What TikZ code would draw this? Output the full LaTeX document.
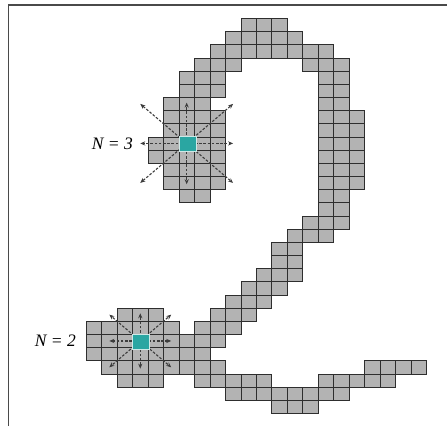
\documentclass[tikz,border=0pt]{standalone}
\usepackage{fontspec}
\setmainfont{Liberation Serif}
\usetikzlibrary{arrows.meta}
\definecolor{cellgray}{HTML}{B3B3B3}
\definecolor{celledge}{HTML}{2E2E2E}
\definecolor{seedteal}{HTML}{2AA6A2}
\definecolor{seededge}{HTML}{CFE9E7}
\definecolor{arrowgray}{HTML}{3C3C3C}
\definecolor{framegray}{HTML}{4A4A4A}
\tikzset{
  cell/.style={fill=cellgray,draw=celledge,line width=0.6pt},
  seed/.style={fill=seedteal,draw=seededge,line width=0.9pt,minimum width=17pt,minimum height=15pt,inner sep=0pt},
  probe/.style={draw=arrowgray,line width=1.1pt,dash pattern=on 2.6pt off 1.6pt,-{Stealth[length=5pt,width=4.2pt]}},
  lbl/.style={font=\fontsize{17.5}{20}\selectfont\itshape,anchor=east,inner sep=0pt}
}
\begin{document}
\begin{tikzpicture}
  \useasboundingbox (0,0) rectangle (447pt,-426pt);
  % frame
  \draw[framegray,line width=1.3pt] (8.3pt,-426pt) -- (8.3pt,-5pt) -- (447pt,-5pt);

  \begin{scope}[shift={(148pt,-18.3pt)},x=15.47pt,y=-13.17pt]
    % cells of the curve, row by row
    \foreach \r/\cs in {
        0/{6,7,8},
        1/{5,6,7,8,9},
        2/{4,5,6,7,8,9,10,11},
        3/{3,4,5,10,11,12},
        4/{2,3,4,11,12},
        5/{2,3,4,11,12},
        6/{1,2,3,11,12},
        7/{1,2,3,4,11,12,13},
        8/{1,2,3,4,11,12,13},
        9/{0,1,2,3,4,11,12,13},
        10/{0,1,2,3,4,11,12,13},
        11/{1,2,3,4,11,12,13},
        12/{1,2,3,4,11,12,13},
        13/{2,3,11,12},
        14/{11,12},
        15/{10,11,12},
        16/{9,10,11},
        17/{8,9},
        18/{8,9},
        19/{7,8,9},
        20/{6,7,8},
        21/{5,6,7},
        22/{-2,-1,0,4,5,6},
        23/{-4,-3,-2,-1,0,1,3,4,5},
        24/{-4,-3,-2,-1,0,1,2,3,4},
        25/{-4,-3,-2,-1,0,1,2,3},
        26/{-3,-2,-1,0,1,2,3,4,14,15,16,17},
        27/{-2,-1,0,3,4,5,6,7,11,12,13,14,15},
        28/{5,6,7,8,9,10,11,12},
        29/{8,9,10}}{
      \foreach \c in \cs {
        \draw[cell] (\c,\r) rectangle ++(1,1);
      }
    }

    % N = 3
    \coordinate (ctrA) at (2.5,9.5);
    \foreach \dx/\dy in {3/0,-3/0,0/3.1,0/-3.1,3/3,-3/3,3/-3,-3/-3}{
      \draw[probe] (ctrA) -- ++(\dx,\dy);
    }
    \node[seed,xshift=0.8pt,yshift=-0.8pt] (seedA) at (ctrA) {};
    \node[lbl] (labA) at (-0.97,9.5) {N = 3};

    % N = 2
    \coordinate (ctrB) at (-0.5,24.5);
    \foreach \dx/\dy in {2/0,-2/0,0/2.1,0/-2.1,2/2,-2/2,2/-2,-2/-2}{
      \draw[probe] (ctrB) -- ++(\dx,\dy);
    }
    \node[seed,xshift=0.8pt,yshift=-0.8pt] (seedB) at (ctrB) {};
    \node[lbl] (labB) at (-4.65,24.5) {N = 2};
  \end{scope}
\end{tikzpicture}
\end{document}
